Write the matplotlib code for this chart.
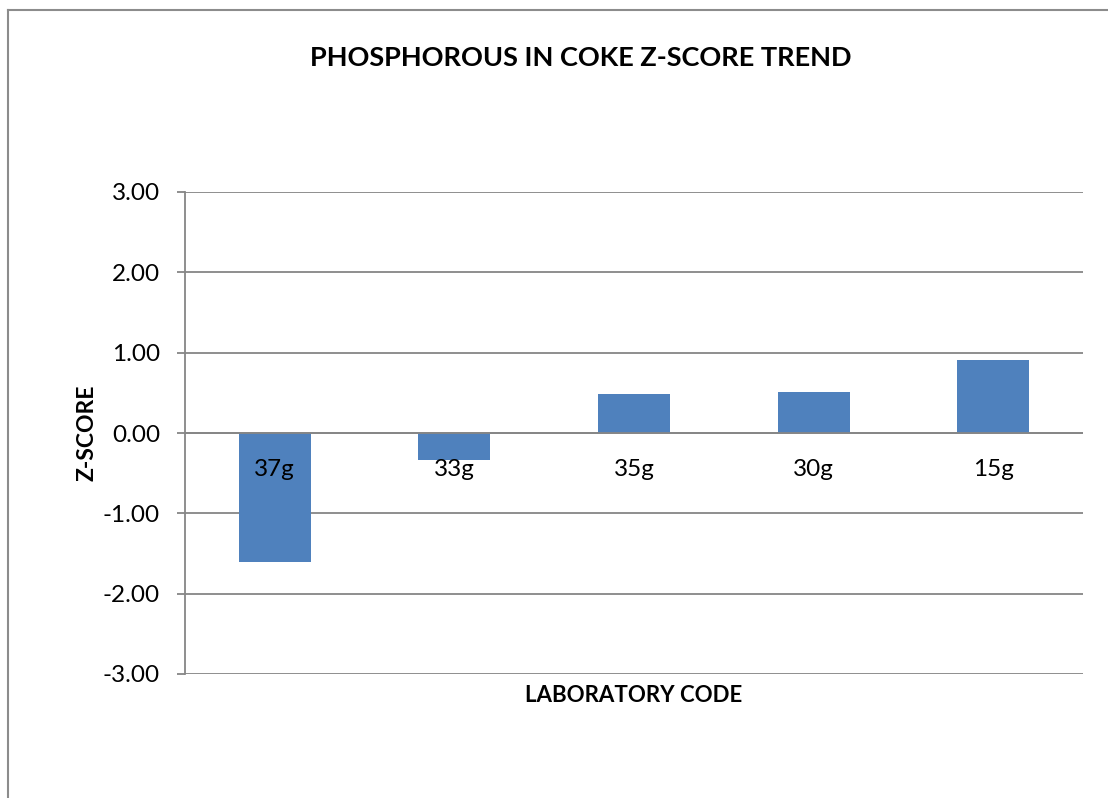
import matplotlib
matplotlib.use('Agg')
import matplotlib.pyplot as plt
from matplotlib.lines import Line2D

# Dữ liệu
labs = ['37g', '33g', '35g', '30g', '15g']
z_scores = [-1.60, -0.33, 0.49, 0.51, 0.91]
y_ticks = [-3, -2, -1, 0, 1, 2, 3]

plt.rcParams['font.family'] = ['Lato', 'DejaVu Sans']

W, H = 1108, 798
fig = plt.figure(figsize=(W / 100, H / 100), dpi=100)
ax = fig.add_axes([185 / W, 1 - 674 / H, (1083 - 185) / W, (674 - 192) / H])

grid_col = '#868686'
x = range(len(labs))
ax.bar(x, z_scores, width=0.4, color='#4F81BD', zorder=3)
ax.set_xlim(-0.5, len(labs) - 0.5)
ax.set_ylim(-3, 3)
ax.set_yticks(y_ticks)
ax.set_yticklabels([f'{v:.2f}' for v in y_ticks], fontsize=17.5)
ax.yaxis.grid(True, color=grid_col, linewidth=1.3, zorder=0)
ax.axhline(0, color=grid_col, linewidth=1.3, zorder=4)
ax.set_xticks([])
for s in ['top', 'right', 'bottom']:
    ax.spines[s].set_visible(False)
ax.spines['left'].set_color(grid_col)
ax.spines['left'].set_linewidth(1.3)
ax.tick_params(axis='y', length=6, width=1.3, color=grid_col, pad=12)

# Nhãn mã phòng thí nghiệm nằm dưới đường 0
for i, lab in enumerate(labs):
    ax.annotate(lab, xy=(i, 0), xytext=(0, -26), textcoords='offset points',
                ha='center', va='center', fontsize=17.5, zorder=5)

fig.text(581 / W, 1 - 58 / H, 'PHOSPHOROUS IN COKE Z-SCORE TREND',
         ha='center', va='center', fontsize=19.5, fontweight='bold')
fig.text(634 / W, 1 - 696 / H, 'LABORATORY CODE', ha='center', va='center',
         fontsize=16, fontweight='bold')
fig.text(87 / W, 1 - 433 / H, 'Z-SCORE', ha='center', va='center',
         fontsize=16.5, fontweight='bold', rotation=90)

# Khung biểu đồ
border = '#8C8C8C'
fig.add_artist(Line2D([8 / W, 8 / W], [0, 1 - 10 / H], color=border, linewidth=1.5))
fig.add_artist(Line2D([8 / W, 1], [1 - 10 / H, 1 - 10 / H], color=border, linewidth=1.5))

fig.savefig('out.png', dpi=100)
